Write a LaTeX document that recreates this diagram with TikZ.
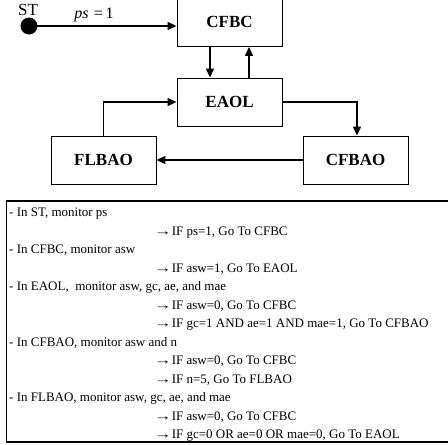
\documentclass[tikz,border=0pt]{standalone}
\usepackage{fontspec}
\setmainfont{Liberation Serif}
\usetikzlibrary{arrows.meta}
\newcommand\myarr{\scalebox{1.35}[1]{→}}
\begin{document}
\begin{tikzpicture}[x=1pt,y=-1pt,
  statebox/.style={draw,line width=0.9pt,minimum width=105pt,minimum height=48pt,inner sep=0pt,font=\fontsize{17}{20}\selectfont\bfseries},
  conn/.style={line width=1.3pt,-{Triangle[length=9pt,width=8pt]}},
  ptext/.style={anchor=base west,inner sep=0pt,font=\fontsize{13}{15}\selectfont}]
\useasboundingbox (0,0) rectangle (448,445);
% state boxes
\node[statebox,minimum height=49pt] (CFBC) at (229.5,22) {CFBC};
\node[statebox] (EAOL) at (229.5,102) {EAOL};
\node[statebox] (FLBAO) at (103.5,160) {FLBAO};
\node[statebox] (CFBAO) at (355.5,160) {CFBAO};
% start
\node[circle,fill=black,minimum size=17pt,inner sep=0pt] (ST) at (29,26) {};
\node[anchor=base,inner sep=0pt,font=\fontsize{17}{20}\selectfont] (STl) at (28,15) {ST};
\node[anchor=base,inner sep=0pt,font=\fontsize{16}{18}\selectfont] (psl) at (94,18) {\textit{ps}\,\,=\,1};
\draw[conn] (ST.center) -- (ST.center -| CFBC.west);
% connectors
\draw[conn] ([xshift=-19.5pt]CFBC.south) -- ([xshift=-19.5pt]EAOL.north);
\draw[conn] ([xshift=19.5pt]EAOL.north) -- ([xshift=19.5pt]CFBC.south);
\draw[conn] (FLBAO.north) |- (EAOL.west);
\draw[conn] (EAOL.east) -| ([xshift=1.5pt]CFBAO.north);
\draw[conn] (CFBAO.west) -- (FLBAO.east);
% panel
\draw[line width=1.5pt] (452,201) -- (6.5,201) -- (6.5,442) -- (452,442);
\node[ptext] (t1) at (9,216.5) {- In ST, monitor ps};
\node[ptext] (t2) at (154,235) {\myarr IF ps=1, Go To CFBC};
\node[ptext] (t3) at (9,253.5) {- In CFBC, monitor asw};
\node[ptext] (t4) at (154,272) {\myarr IF asw=1, Go To EAOL};
\node[ptext] (t5) at (9,290.5) {- In EAOL,\ \ monitor asw, gc, ae, and mae};
\node[ptext] (t6) at (154,309) {\myarr IF asw=0, Go To CFBC};
\node[ptext] (t7) at (154,327.5) {\myarr IF gc=1 AND ae=1 AND mae=1, Go To CFBAO};
\node[ptext] (t8) at (9,346) {- In CFBAO, monitor asw and n};
\node[ptext] (t9) at (154,364.5) {\myarr IF asw=0, Go To CFBC};
\node[ptext] (t10) at (154,383) {\myarr IF n=5, Go To FLBAO};
\node[ptext] (t11) at (9,401.5) {- In FLBAO, monitor asw, gc, ae, and mae};
\node[ptext] (t12) at (154,420) {\myarr IF asw=0, Go To CFBC};
\node[ptext] (t13) at (154,438.5) {\myarr IF gc=0 OR ae=0 OR mae=0, Go To EAOL};
\end{tikzpicture}
\end{document}
